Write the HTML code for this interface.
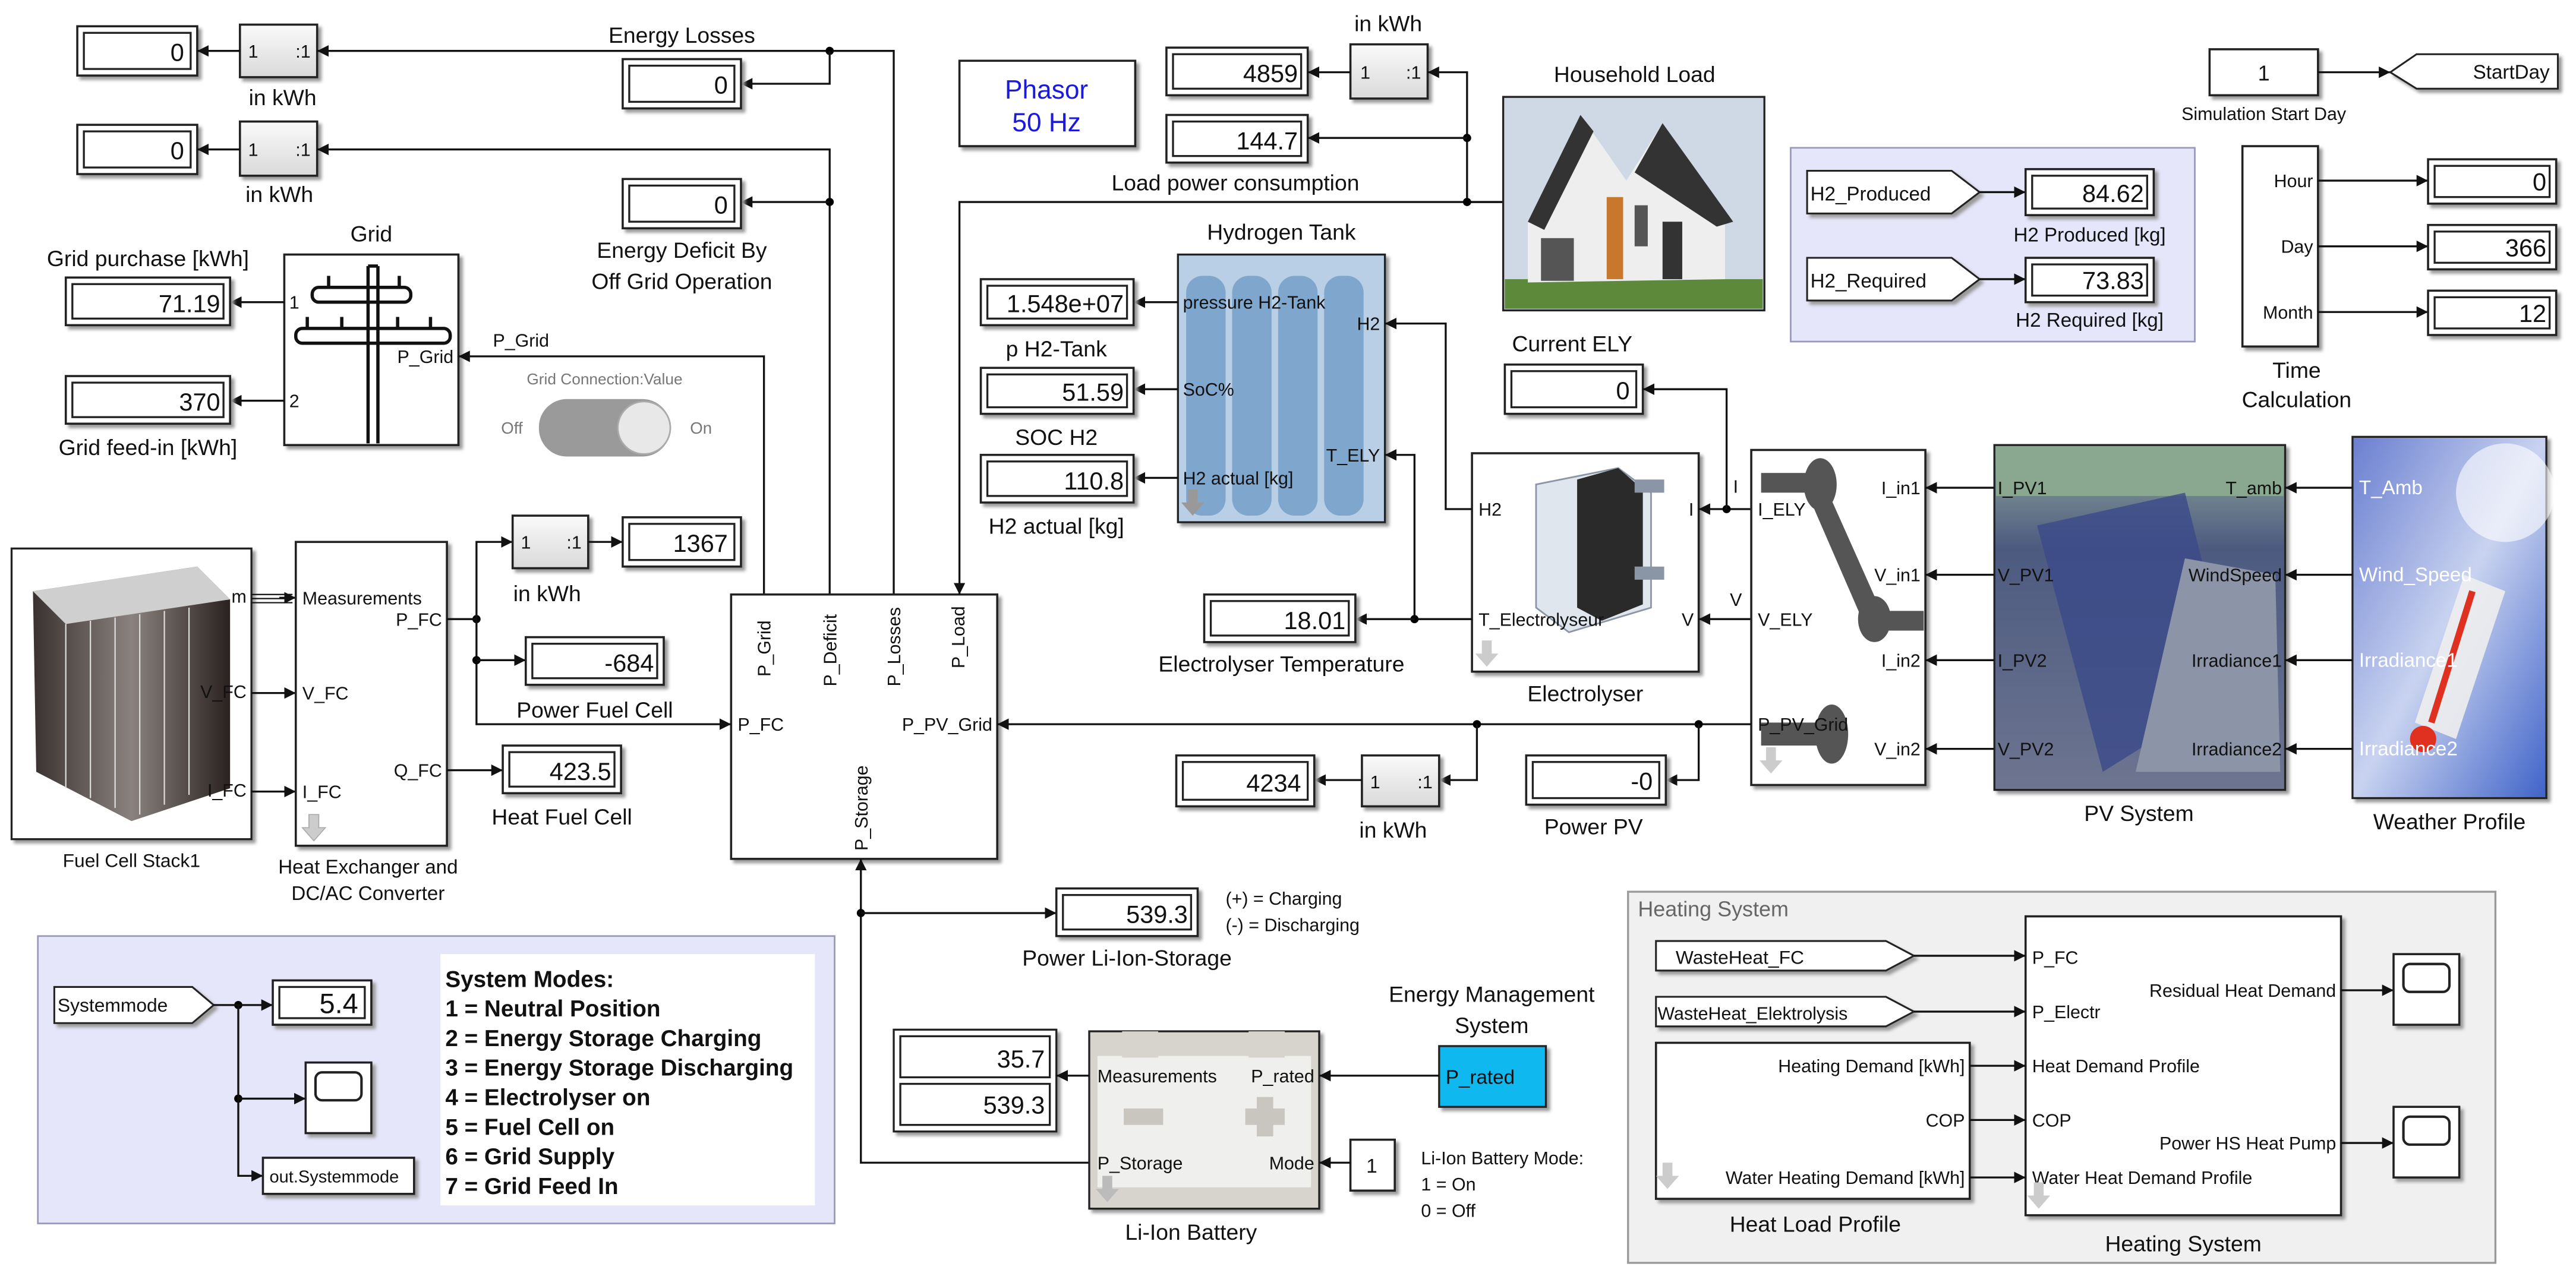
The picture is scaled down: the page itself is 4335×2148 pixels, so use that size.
<!DOCTYPE html>
<html><head><meta charset="utf-8">
<style>
html,body{margin:0;padding:0;background:#fff;}
svg{display:block;}
text{font-family:"Liberation Sans",Arial,sans-serif;fill:#111;}
.lbl{font-size:13.5px;}
.pt{font-size:11px;}
.dn{font-size:15px;text-anchor:end;}
.ln{stroke:#111;stroke-width:1.2;fill:none;}
.blk{fill:#fff;stroke:#222;stroke-width:1.3;filter:drop-shadow(2px 2px 1px #999);}
.di{fill:#fff;stroke:#222;stroke-width:1.2;}
.mid{text-anchor:middle;}
.end{text-anchor:end;}
</style></head><body>
<svg width="4335" height="2148" viewBox="0 0 1568 777" xmlns="http://www.w3.org/2000/svg">
<defs>
<marker id="a" viewBox="0 0 10 10" refX="10" refY="5" markerWidth="7" markerHeight="7" orient="auto-start-reverse" markerUnits="userSpaceOnUse"><path d="M0,0L10,5L0,10z" fill="#111"/></marker>
<linearGradient id="gg" x1="0" y1="0" x2="0" y2="1"><stop offset="0" stop-color="#fafafa"/><stop offset="1" stop-color="#d9d9d9"/></linearGradient>
<linearGradient id="sky" x1="0" y1="0" x2="1" y2="1"><stop offset="0" stop-color="#6a7fd0"/><stop offset="0.5" stop-color="#c9d3f0"/><stop offset="1" stop-color="#3f63c8"/></linearGradient>
<linearGradient id="pv" x1="0" y1="0" x2="0" y2="1"><stop offset="0" stop-color="#8fa89a"/><stop offset="0.3" stop-color="#4d5a80"/><stop offset="1" stop-color="#6d7590"/></linearGradient>
<linearGradient id="fc" x1="0" y1="0" x2="1" y2="0"><stop offset="0" stop-color="#3a3230"/><stop offset="0.5" stop-color="#8a827e"/><stop offset="1" stop-color="#2a2220"/></linearGradient>
</defs>

<!-- ===== top-left displays ===== -->
<g>
<rect class="blk" x="47" y="16" width="73" height="30"/><rect class="di" x="51" y="20" width="65" height="22"/><text class="dn" x="112" y="37">0</text>
<rect class="blk" x="146" y="15" width="47" height="32" fill="url(#gg)" style="fill:url(#gg)"/><text class="pt" x="151" y="35">1</text><text class="pt end" x="189" y="35">:1</text>
<text class="lbl mid" x="172" y="64">in kWh</text>
<rect class="blk" x="47" y="76" width="73" height="30"/><rect class="di" x="51" y="80" width="65" height="22"/><text class="dn" x="112" y="97">0</text>
<rect class="blk" x="146" y="74" width="47" height="33" style="fill:url(#gg)"/><text class="pt" x="151" y="95">1</text><text class="pt end" x="189" y="95">:1</text>
<text class="lbl mid" x="170" y="123">in kWh</text>
</g>
<path class="ln" d="M146,31H120" marker-end="url(#a)"/>
<path class="ln" d="M146,91H120" marker-end="url(#a)"/>
<path class="ln" d="M544,362V31H193" marker-end="url(#a)"/>
<text class="lbl mid" x="415" y="26">Energy Losses</text>
<circle cx="505" cy="31" r="2.5"/>
<path class="ln" d="M505,31V51H451" marker-end="url(#a)"/>
<rect class="blk" x="379" y="36" width="72" height="30"/><rect class="di" x="383" y="40" width="64" height="22"/><text class="dn" x="443" y="57">0</text>
<path class="ln" d="M505,362V91H193" marker-end="url(#a)"/>
<circle cx="505" cy="123" r="2.5"/>
<path class="ln" d="M505,123H451" marker-end="url(#a)"/>
<rect class="blk" x="379" y="109" width="72" height="30"/><rect class="di" x="383" y="113" width="64" height="22"/><text class="dn" x="443" y="130">0</text>
<text class="lbl mid" x="415" y="157">Energy Deficit By</text>
<text class="lbl mid" x="415" y="176">Off Grid Operation</text>

<!-- Phasor -->
<rect class="blk" x="584" y="37" width="107" height="52"/>
<text class="mid" x="637" y="60" style="font-size:16px;fill:#1a1adc">Phasor</text>
<text class="mid" x="637" y="80" style="font-size:16px;fill:#1a1adc">50 Hz</text>

<!-- Grid -->
<text class="lbl mid" x="226" y="147">Grid</text>
<rect class="blk" x="173" y="155" width="106" height="116"/>
<g stroke="#111" stroke-width="2" fill="none">
<path d="M224,162V270M230,162V270"/>
<rect x="190" y="175" width="60" height="9" rx="4"/>
<rect x="180" y="200" width="94" height="9" rx="4"/>
<path d="M200,175V168M224,162h6M243,175V168M187,200V193M208,200V193M242,200V193M262,200V193"/>
</g>
<text class="pt" x="176" y="188">1</text><text class="pt" x="176" y="248">2</text>
<text class="pt end" x="276" y="221">P_Grid</text>
<path class="ln" d="M173,184H140" marker-end="url(#a)"/>
<path class="ln" d="M173,244H140" marker-end="url(#a)"/>
<rect class="blk" x="40" y="169" width="100" height="29"/><rect class="di" x="44" y="173" width="92" height="21"/><text class="dn" x="134" y="190">71.19</text>
<rect class="blk" x="40" y="229" width="100" height="29"/><rect class="di" x="44" y="233" width="92" height="21"/><text class="dn" x="134" y="250">370</text>
<text class="lbl mid" x="90" y="162">Grid purchase [kWh]</text>
<text class="lbl mid" x="90" y="277">Grid feed-in [kWh]</text>
<path class="ln" d="M465,362V217H279" marker-end="url(#a)"/>
<text class="pt" x="300" y="211">P_Grid</text>
<text class="mid" x="368" y="234" style="font-size:9.5px;fill:#777">Grid Connection:Value</text>
<rect x="328" y="243" width="80" height="35" rx="17" fill="#9a9a9a"/>
<circle cx="392" cy="260.5" r="16" fill="#e8e8e8" stroke="#aaa"/>
<text x="305" y="264" style="font-size:10px;fill:#777">Off</text>
<text x="420" y="264" style="font-size:10px;fill:#777">On</text>

<!-- Central block -->
<rect class="blk" x="445" y="362" width="162" height="161"/>
<g class="pt">
<text transform="translate(469,412) rotate(-90)">P_Grid</text>
<text transform="translate(509,418) rotate(-90)">P_Deficit</text>
<text transform="translate(548,418) rotate(-90)">P_Losses</text>
<text transform="translate(587,407) rotate(-90)">P_Load</text>
<text transform="translate(528,518) rotate(-90)">P_Storage</text>
<text x="449" y="445">P_FC</text>
<text class="end" x="604" y="445">P_PV_Grid</text>
</g>
<path class="ln" d="M915,123H584V362" marker-end="url(#a)"/>
<text class="lbl mid" x="752" y="116">Load power consumption</text>

<!-- Fuel cell -->
<rect x="7" y="334" width="146" height="177" fill="#fff" stroke="#222" stroke-width="1.2" style="filter:drop-shadow(2px 2px 1px #999)"/>
<polygon points="20,360 120,345 140,365 140,480 80,500 22,470" fill="url(#fc)"/>
<polygon points="20,360 120,345 140,365 40,380" fill="#cfcfcf"/>
<g stroke="#ddd" stroke-width="0.8"><path d="M40,380V480M55,378V486M70,376V492M85,374V496M100,372V490M115,370V484"/></g>
<text class="pt end" x="150" y="367">m</text><text class="pt end" x="150" y="425">V_FC</text><text class="pt end" x="150" y="485">I_FC</text>
<text class="mid" x="80" y="528" style="font-size:11.5px">Fuel Cell Stack1</text>
<path d="M153,362H178M153,364.5H178M153,367H178" stroke="#111" stroke-width="0.8"/>
<path class="ln" d="M170,364H180" marker-end="url(#a)"/>
<path class="ln" d="M153,422H180" marker-end="url(#a)"/>
<path class="ln" d="M153,482H180" marker-end="url(#a)"/>
<rect class="blk" x="180" y="330" width="92" height="185"/>
<text class="pt" x="184" y="368">Measurements</text>
<text class="pt end" x="269" y="381">P_FC</text>
<text class="pt" x="184" y="426">V_FC</text>
<text class="pt" x="184" y="486">I_FC</text>
<text class="pt end" x="269" y="473">Q_FC</text>
<path d="M188,496h6v8h4l-7,8l-7,-8h4z" fill="#ccc" stroke="#aaa" stroke-width="0.6"/>
<text class="mid" x="224" y="532" style="font-size:12px">Heat Exchanger and</text>
<text class="mid" x="224" y="548" style="font-size:12px">DC/AC Converter</text>
<circle cx="290" cy="377" r="2.5"/>
<path class="ln" d="M272,377H290V330H312" marker-end="url(#a)"/>
<path class="ln" d="M290,377V441H445" marker-end="url(#a)"/>
<circle cx="290" cy="402" r="2.5"/>
<path class="ln" d="M290,402H320" marker-end="url(#a)"/>
<rect class="blk" x="312" y="314" width="46" height="32" style="fill:url(#gg)"/><text class="pt" x="317" y="334">1</text><text class="pt end" x="354" y="334">:1</text>
<path class="ln" d="M358,330H379" marker-end="url(#a)"/>
<rect class="blk" x="379" y="315" width="72" height="30"/><rect class="di" x="383" y="319" width="64" height="22"/><text class="dn" x="443" y="336">1367</text>
<text class="lbl mid" x="333" y="366">in kWh</text>
<rect class="blk" x="320" y="388" width="84" height="29"/><rect class="di" x="324" y="392" width="76" height="21"/><text class="dn" x="398" y="409">-684</text>
<text class="lbl mid" x="362" y="437">Power Fuel Cell</text>
<path class="ln" d="M272,469H306" marker-end="url(#a)"/>
<rect class="blk" x="306" y="454" width="72" height="29"/><rect class="di" x="310" y="458" width="64" height="21"/><text class="dn" x="372" y="475">423.5</text>
<text class="lbl mid" x="342" y="502">Heat Fuel Cell</text>

<!-- Storage -->
<path class="ln" d="M663,708H524V523" marker-end="url(#a)"/>
<circle cx="524" cy="556" r="2.5"/>
<path class="ln" d="M524,556H643" marker-end="url(#a)"/>
<rect class="blk" x="643" y="541" width="86" height="29"/><rect class="di" x="647" y="545" width="78" height="21"/><text class="dn" x="723" y="562">539.3</text>
<text class="lbl mid" x="686" y="588">Power Li-Ion-Storage</text>
<text x="746" y="551" style="font-size:11px">(+) = Charging</text>
<text x="746" y="567" style="font-size:11px">(-) = Discharging</text>

<!-- Systemmode panel -->
<rect x="23" y="570" width="485" height="175" fill="#e6e6fa" stroke="#9999bb" stroke-width="1"/>
<polygon points="33,601 117,601 130,612 117,623 33,623" fill="#fff" stroke="#222" stroke-width="1.1" style="filter:drop-shadow(2px 2px 1px #999)"/>
<text x="35" y="616" style="font-size:11.5px">Systemmode</text>
<circle cx="145" cy="612" r="2.5"/><circle cx="145" cy="669" r="2.5"/>
<path class="ln" d="M130,612H166" marker-end="url(#a)"/>
<path class="ln" d="M145,612V716H160" marker-end="url(#a)"/>
<path class="ln" d="M145,669H186" marker-end="url(#a)"/>
<rect class="blk" x="166" y="597" width="60" height="27"/><rect class="di" x="170" y="601" width="52" height="19"/><text class="dn" x="218" y="617" style="font-size:17px">5.4</text>
<rect class="blk" x="186" y="647" width="40" height="43"/><rect x="192" y="653" width="28" height="17" rx="4" fill="#fff" stroke="#222" stroke-width="1.5"/>
<rect class="blk" x="160" y="705" width="92" height="22"/><text x="164" y="720" style="font-size:10.5px">out.Systemmode</text>
<rect x="268" y="581" width="228" height="153" fill="#fff"/>
<g style="font-size:14px;font-weight:bold">
<text x="271" y="601">System Modes:</text>
<text x="271" y="619">1 = Neutral Position</text>
<text x="271" y="637">2 = Energy Storage Charging</text>
<text x="271" y="655">3 = Energy Storage Discharging</text>
<text x="271" y="673">4 = Electrolyser on</text>
<text x="271" y="691">5 = Fuel Cell on</text>
<text x="271" y="709">6 = Grid Supply</text>
<text x="271" y="727">7 = Grid Feed In</text>
</g>

<!-- Battery -->
<rect x="544" y="627" width="99" height="62" fill="#fff" stroke="#222" stroke-width="1.2" style="filter:drop-shadow(2px 2px 1px #999)"/>
<rect class="di" x="548" y="631" width="91" height="25"/><text class="dn" x="636" y="650">35.7</text>
<rect class="di" x="548" y="660" width="91" height="25"/><text class="dn" x="636" y="678">539.3</text>
<rect x="663" y="628" width="140" height="108" fill="#d6d4cc" stroke="#222" stroke-width="1.2" style="filter:drop-shadow(2px 2px 1px #999)"/>
<rect x="668" y="643" width="130" height="80" fill="#efefed"/>
<rect x="683" y="628" width="22" height="16" fill="#d6d4cc"/><rect x="760" y="628" width="22" height="16" fill="#d6d4cc"/>
<rect x="684" y="675" width="24" height="10" fill="#c8c6be"/>
<rect x="758" y="675" width="24" height="10" fill="#c8c6be"/><rect x="765" y="668" width="10" height="24" fill="#c8c6be"/>
<text class="pt" x="668" y="659">Measurements</text><text class="pt end" x="800" y="659">P_rated</text>
<text class="pt" x="668" y="712">P_Storage</text><text class="pt end" x="800" y="712">Mode</text>
<path d="M671,716h6v8h4l-7,8l-7,-8h4z" fill="#bbb"/>
<path class="ln" d="M663,655H643" marker-end="url(#a)"/>
<text class="lbl mid" x="725" y="755">Li-Ion Battery</text>
<text class="lbl mid" x="908" y="610">Energy Management</text>
<text class="lbl mid" x="908" y="629">System</text>
<rect x="876" y="637" width="65" height="37" fill="#10b8f0" stroke="#222" stroke-width="1.2" style="filter:drop-shadow(2px 2px 1px #999)"/>
<text x="880" y="660" style="font-size:12px">P_rated</text>
<path class="ln" d="M876,655H803" marker-end="url(#a)"/>
<rect class="blk" x="822" y="694" width="27" height="31"/><text class="mid" x="835" y="714" style="font-size:12px">1</text>
<path class="ln" d="M822,708H803" marker-end="url(#a)"/>
<text x="865" y="709" style="font-size:11px">Li-Ion Battery Mode:</text>
<text x="865" y="725" style="font-size:11px">1 = On</text>
<text x="865" y="741" style="font-size:11px">0 = Off</text>

<!-- Heating system panel -->
<rect x="991" y="543" width="528" height="226" fill="#f0f0f0" stroke="#999" stroke-width="1.2"/>
<text x="997" y="558" style="font-size:13px;fill:#666">Heating System</text>
<polygon points="1008,573 1148,573 1165,582 1148,591 1008,591" fill="#fff" stroke="#222" stroke-width="1.1" style="filter:drop-shadow(2px 2px 1px #999)"/>
<text x="1020" y="587" style="font-size:11.5px">WasteHeat_FC</text>
<polygon points="1008,607 1148,607 1165,616 1148,625 1008,625" fill="#fff" stroke="#222" stroke-width="1.1" style="filter:drop-shadow(2px 2px 1px #999)"/>
<text x="1009" y="621" style="font-size:11px">WasteHeat_Elektrolysis</text>
<rect class="blk" x="1008" y="635" width="191" height="95"/>
<text class="pt end" x="1196" y="653">Heating Demand [kWh]</text>
<text class="pt end" x="1196" y="686">COP</text>
<text class="pt end" x="1196" y="721">Water Heating Demand [kWh]</text>
<path d="M1012,708h6v8h4l-7,8l-7,-8h4z" fill="#ccc"/>
<text class="lbl mid" x="1105" y="750">Heat Load Profile</text>
<rect class="blk" x="1233" y="558" width="192" height="182"/>
<g class="pt">
<text x="1237" y="587">P_FC</text>
<text x="1237" y="620">P_Electr</text>
<text x="1237" y="653">Heat Demand Profile</text>
<text x="1237" y="686">COP</text>
<text x="1237" y="721">Water Heat Demand Profile</text>
<text class="end" x="1422" y="607">Residual Heat Demand</text>
<text class="end" x="1422" y="700">Power HS Heat Pump</text>
</g>
<path d="M1238,720h6v8h4l-7,8l-7,-8h4z" fill="#ccc"/>
<text class="lbl mid" x="1329" y="762">Heating System</text>
<path class="ln" d="M1165,582H1233" marker-end="url(#a)"/>
<path class="ln" d="M1165,616H1233" marker-end="url(#a)"/>
<path class="ln" d="M1199,649H1233" marker-end="url(#a)"/>
<path class="ln" d="M1199,682H1233" marker-end="url(#a)"/>
<path class="ln" d="M1199,717H1233" marker-end="url(#a)"/>
<path class="ln" d="M1425,603H1457" marker-end="url(#a)"/>
<path class="ln" d="M1425,696H1457" marker-end="url(#a)"/>
<rect class="blk" x="1457" y="581" width="40" height="43"/><rect x="1463" y="587" width="28" height="17" rx="4" fill="#fff" stroke="#222" stroke-width="1.5"/>
<rect class="blk" x="1457" y="674" width="40" height="43"/><rect x="1463" y="680" width="28" height="17" rx="4" fill="#fff" stroke="#222" stroke-width="1.5"/>

<!-- top right load -->
<text class="lbl mid" x="845" y="19">in kWh</text>
<rect class="blk" x="822" y="27" width="47" height="33" style="fill:url(#gg)"/><text class="pt" x="828" y="48">1</text><text class="pt end" x="865" y="48">:1</text>
<rect class="blk" x="710" y="29" width="86" height="29"/><rect class="di" x="714" y="33" width="78" height="21"/><text class="dn" x="790" y="50">4859</text>
<rect class="blk" x="710" y="70" width="86" height="29"/><rect class="di" x="714" y="74" width="78" height="21"/><text class="dn" x="790" y="91">144.7</text>
<path class="ln" d="M822,44H796" marker-end="url(#a)"/>
<path class="ln" d="M915,123H893V44H869" marker-end="url(#a)"/>
<circle cx="893" cy="123" r="2.5"/><circle cx="893" cy="84" r="2.5"/>
<path class="ln" d="M893,84H796" marker-end="url(#a)"/>
<text class="lbl mid" x="995" y="50">Household Load</text>
<!-- house -->
<rect x="915" y="59" width="159" height="130" fill="#cfd9e6" stroke="#222" stroke-width="1.2"/>
<rect x="916" y="170" width="157" height="18" fill="#5c8a3a"/>
<polygon points="930,135 962,70 990,110 1012,75 1050,130 1050,170 930,172" fill="#eeeeee"/>
<polygon points="930,135 962,70 970,80 940,140" fill="#333"/>
<polygon points="995,105 1012,75 1055,135 1045,138" fill="#333"/>
<rect x="978" y="120" width="10" height="50" fill="#c8782c"/>
<rect x="938" y="145" width="20" height="26" fill="#555"/>
<rect x="995" y="125" width="8" height="25" fill="#555"/><rect x="1012" y="135" width="12" height="35" fill="#333"/>

<!-- Hydrogen tank -->
<text class="lbl mid" x="780" y="146">Hydrogen Tank</text>
<rect x="717" y="155" width="126" height="163" fill="#b8cfe6" stroke="#222" stroke-width="1.2" style="filter:drop-shadow(2px 2px 1px #999)"/>
<g fill="#7fa6cc"><rect x="722" y="168" width="24" height="146" rx="10"/><rect x="750" y="168" width="24" height="146" rx="10"/><rect x="778" y="168" width="24" height="146" rx="10"/><rect x="806" y="168" width="24" height="146" rx="10"/></g>
<g class="pt"><text x="720" y="188">pressure H2-Tank</text><text x="720" y="241">SoC%</text><text x="720" y="295">H2 actual [kg]</text>
<text class="end" x="840" y="201">H2</text><text class="end" x="840" y="281">T_ELY</text></g>
<path d="M723,298h6v8h4l-7,8l-7,-8h4z" fill="#999"/>
<path class="ln" d="M717,184H690" marker-end="url(#a)"/>
<path class="ln" d="M717,237H690" marker-end="url(#a)"/>
<path class="ln" d="M717,291H690" marker-end="url(#a)"/>
<rect class="blk" x="597" y="170" width="93" height="28"/><rect class="di" x="601" y="174" width="85" height="20"/><text class="dn" x="684" y="190">1.548e+07</text>
<rect class="blk" x="597" y="224" width="93" height="28"/><rect class="di" x="601" y="228" width="85" height="20"/><text class="dn" x="684" y="244">51.59</text>
<rect class="blk" x="597" y="277" width="93" height="29"/><rect class="di" x="601" y="281" width="85" height="21"/><text class="dn" x="684" y="298">110.8</text>
<text class="lbl mid" x="643" y="217">p H2-Tank</text>
<text class="lbl mid" x="643" y="271">SOC H2</text>
<text class="lbl mid" x="643" y="325">H2 actual [kg]</text>

<!-- H2 panel -->
<rect x="1090" y="90" width="246" height="118" fill="#e6e6fa" stroke="#9999bb" stroke-width="1"/>
<polygon points="1100,104 1188,104 1205,117 1188,130 1100,130" fill="#fff" stroke="#222" stroke-width="1.1" style="filter:drop-shadow(2px 2px 1px #999)"/>
<text x="1102" y="122" style="font-size:12px">H2_Produced</text>
<polygon points="1100,157 1188,157 1205,170 1188,183 1100,183" fill="#fff" stroke="#222" stroke-width="1.1" style="filter:drop-shadow(2px 2px 1px #999)"/>
<text x="1102" y="175" style="font-size:12px">H2_Required</text>
<path class="ln" d="M1205,117H1233" marker-end="url(#a)"/>
<path class="ln" d="M1205,170H1233" marker-end="url(#a)"/>
<rect class="blk" x="1233" y="103" width="78" height="28"/><rect class="di" x="1237" y="107" width="70" height="20"/><text class="dn" x="1305" y="123">84.62</text>
<rect class="blk" x="1233" y="157" width="78" height="27"/><rect class="di" x="1237" y="161" width="70" height="19"/><text class="dn" x="1305" y="176">73.83</text>
<text class="mid" x="1272" y="147" style="font-size:12px">H2 Produced [kg]</text>
<text class="mid" x="1272" y="199" style="font-size:12px">H2 Required [kg]</text>

<!-- start day / time -->
<rect class="blk" x="1345" y="30" width="66" height="28"/><text class="mid" x="1378" y="49" style="font-size:13px">1</text>
<text class="mid" x="1378" y="73" style="font-size:11px">Simulation Start Day</text>
<path class="ln" d="M1411,44H1455" marker-end="url(#a)"/>
<polygon points="1455,44 1471,33 1557,33 1557,54 1471,54" fill="#fff" stroke="#222" stroke-width="1.1" style="filter:drop-shadow(2px 2px 1px #999)"/>
<text class="end" x="1552" y="48" style="font-size:12px">StartDay</text>
<rect class="blk" x="1365" y="89" width="46" height="122"/>
<g class="pt"><text class="end" x="1408" y="114">Hour</text><text class="end" x="1408" y="154">Day</text><text class="end" x="1408" y="194">Month</text></g>
<path class="ln" d="M1411,110H1478" marker-end="url(#a)"/>
<path class="ln" d="M1411,150H1478" marker-end="url(#a)"/>
<path class="ln" d="M1411,190H1478" marker-end="url(#a)"/>
<rect class="blk" x="1478" y="97" width="78" height="27"/><rect class="di" x="1482" y="101" width="70" height="19"/><text class="dn" x="1550" y="116">0</text>
<rect class="blk" x="1478" y="137" width="78" height="27"/><rect class="di" x="1482" y="141" width="70" height="19"/><text class="dn" x="1550" y="156">366</text>
<rect class="blk" x="1478" y="177" width="78" height="27"/><rect class="di" x="1482" y="181" width="70" height="19"/><text class="dn" x="1550" y="196">12</text>
<text class="lbl mid" x="1398" y="230">Time</text>
<text class="lbl mid" x="1398" y="248">Calculation</text>

<!-- Electrolyser -->
<text class="lbl mid" x="957" y="214">Current ELY</text>
<rect class="blk" x="916" y="222" width="84" height="30"/><rect class="di" x="920" y="226" width="76" height="22"/><text class="dn" x="992" y="243">0</text>
<rect class="blk" x="896" y="276" width="138" height="133"/>
<polygon points="935,295 985,285 1005,300 1005,370 955,385 935,370" fill="#dfe6ee" stroke="#8a96a6"/>
<polygon points="960,292 985,285 1000,298 1000,368 975,378 960,370" fill="#2a2a2a"/>
<g fill="#8a96a6"><rect x="995" y="292" width="18" height="8"/><rect x="995" y="345" width="18" height="8"/></g>
<g class="pt"><text x="900" y="314">H2</text><text x="900" y="381">T_Electrolyseur</text><text class="end" x="1031" y="314">I</text><text class="end" x="1031" y="381">V</text></g>
<path d="M902,390h6v8h4l-7,8l-7,-8h4z" fill="#ccc"/>
<text class="lbl mid" x="965" y="427">Electrolyser</text>
<path class="ln" d="M896,310H880V197H843" marker-end="url(#a)"/>
<path class="ln" d="M896,377H861V277H843" marker-end="url(#a)"/>
<circle cx="861" cy="377" r="2.5"/>
<path class="ln" d="M861,377H825" marker-end="url(#a)"/>
<rect class="blk" x="733" y="362" width="92" height="29"/><rect class="di" x="737" y="366" width="84" height="21"/><text class="dn" x="819" y="383">18.01</text>
<text class="lbl mid" x="780" y="409">Electrolyser Temperature</text>
<path class="ln" d="M1066,310H1034" marker-end="url(#a)"/>
<path class="ln" d="M1066,377H1034" marker-end="url(#a)"/>
<circle cx="1051" cy="310" r="2.5"/>
<path class="ln" d="M1051,310V237H1000" marker-end="url(#a)"/>
<text class="pt" x="1055" y="300">I</text><text class="pt" x="1053" y="369">V</text>

<!-- Switch block -->
<rect class="blk" x="1066" y="274" width="106" height="204"/>
<g fill="#555"><ellipse cx="1108" cy="295" rx="10" ry="16"/><rect x="1072" y="288" width="36" height="12"/>
<polygon points="1100,300 1112,298 1145,372 1133,376"/><ellipse cx="1141" cy="377" rx="10" ry="14"/><rect x="1141" y="372" width="30" height="12"/>
<ellipse cx="1115" cy="447" rx="10" ry="18"/><rect x="1072" y="440" width="43" height="14"/></g>
<g class="pt"><text x="1070" y="314">I_ELY</text><text x="1070" y="381">V_ELY</text><text x="1070" y="445">P_PV_Grid</text>
<text class="end" x="1169" y="301">I_in1</text><text class="end" x="1169" y="354">V_in1</text><text class="end" x="1169" y="406">I_in2</text><text class="end" x="1169" y="460">V_in2</text></g>
<path d="M1075,455h6v8h4l-7,8l-7,-8h4z" fill="#ccc"/>
<path class="ln" d="M1066,441H607" marker-end="url(#a)"/>
<circle cx="1034" cy="441" r="2.5"/><circle cx="899" cy="441" r="2.5"/>
<path class="ln" d="M1034,441V475H1014" marker-end="url(#a)"/>
<path class="ln" d="M899,441V475H876" marker-end="url(#a)"/>
<rect class="blk" x="929" y="460" width="85" height="30"/><rect class="di" x="933" y="464" width="77" height="22"/><text class="dn" x="1006" y="481">-0</text>
<text class="lbl mid" x="970" y="508">Power PV</text>
<rect class="blk" x="829" y="460" width="47" height="31" style="fill:url(#gg)"/><text class="pt" x="834" y="480">1</text><text class="pt end" x="872" y="480">:1</text>
<path class="ln" d="M829,475H800" marker-end="url(#a)"/>
<rect class="blk" x="716" y="460" width="84" height="31"/><rect class="di" x="720" y="464" width="76" height="23"/><text class="dn" x="792" y="482">4234</text>
<text class="lbl mid" x="848" y="510">in kWh</text>

<!-- PV System -->
<rect x="1214" y="271" width="177" height="210" fill="url(#pv)" stroke="#222" stroke-width="1.2" style="filter:drop-shadow(2px 2px 1px #999)"/>
<rect x="1215" y="272" width="175" height="30" fill="#8aa890"/>
<polygon points="1240,320 1330,300 1360,420 1280,470" fill="#3b4a8a" opacity="0.8"/>
<polygon points="1330,340 1385,350 1388,470 1300,470" fill="#8c95a8"/>
<g class="pt"><text x="1216" y="301">I_PV1</text><text x="1216" y="354">V_PV1</text><text x="1216" y="406">I_PV2</text><text x="1216" y="460">V_PV2</text>
<text class="end" x="1389" y="301">T_amb</text><text class="end" x="1389" y="354">WindSpeed</text><text class="end" x="1389" y="406">Irradiance1</text><text class="end" x="1389" y="460">Irradiance2</text></g>
<path class="ln" d="M1214,297H1172" marker-end="url(#a)"/>
<path class="ln" d="M1214,350H1172" marker-end="url(#a)"/>
<path class="ln" d="M1214,402H1172" marker-end="url(#a)"/>
<path class="ln" d="M1214,456H1172" marker-end="url(#a)"/>
<text class="lbl mid" x="1302" y="500">PV System</text>

<!-- Weather -->
<rect x="1432" y="266" width="118" height="220" fill="url(#sky)" stroke="#222" stroke-width="1.2" style="filter:drop-shadow(2px 2px 1px #999)"/>
<circle cx="1525" cy="300" r="30" fill="#fff" opacity="0.6"/>
<polygon points="1470,440 1500,350 1525,360 1495,450" fill="#eee" opacity="0.9"/>
<path d="M1505,360L1480,440" stroke="#e03020" stroke-width="4"/>
<circle cx="1475" cy="450" r="8" fill="#e03020"/>
<g style="font-size:12px"><text x="1436" y="301" style="fill:#fff">T_Amb</text><text x="1436" y="354" style="fill:#fff">Wind_Speed</text><text x="1436" y="406" style="fill:#fff">Irradiance1</text><text x="1436" y="460" style="fill:#fff">Irradiance2</text></g>
<path class="ln" d="M1432,297H1391" marker-end="url(#a)"/>
<path class="ln" d="M1432,350H1391" marker-end="url(#a)"/>
<path class="ln" d="M1432,402H1391" marker-end="url(#a)"/>
<path class="ln" d="M1432,456H1391" marker-end="url(#a)"/>
<text class="lbl mid" x="1491" y="505">Weather Profile</text>
</svg>
</body></html>
